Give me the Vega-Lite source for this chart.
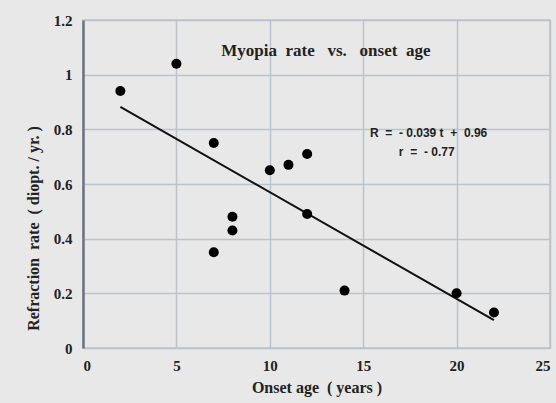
{
  "$schema": "https://vega.github.io/schema/vega-lite/v6.json",
  "width": 467,
  "height": 328,
  "autosize": {"type": "none"},
  "padding": {"left": 83, "top": 20, "right": 6, "bottom": 55},
  "background": "#e8e8e8",
  "config": {
    "view": {"stroke": "#b9c4cf", "strokeWidth": 1.5},
    "axis": {
      "labelFont": "Liberation Serif",
      "titleFont": "Liberation Serif",
      "labelFontWeight": "bold",
      "titleFontWeight": "bold",
      "labelColor": "#222",
      "titleColor": "#222",
      "labelFontSize": 15,
      "titleFontSize": 16,
      "gridColor": "#b9c4cf",
      "gridWidth": 1.5,
      "gridOpacity": 1,
      "ticks": false
    }
  },
  "datasets": {
    "points": [
      {"age": 2, "rate": 0.94},
      {"age": 5, "rate": 1.04},
      {"age": 7, "rate": 0.75},
      {"age": 7, "rate": 0.35},
      {"age": 8, "rate": 0.48},
      {"age": 8, "rate": 0.43},
      {"age": 10, "rate": 0.65},
      {"age": 11, "rate": 0.67},
      {"age": 12, "rate": 0.71},
      {"age": 12, "rate": 0.49},
      {"age": 14, "rate": 0.21},
      {"age": 20, "rate": 0.2},
      {"age": 22, "rate": 0.13}
    ],
    "fit": [
      {"age": 2, "rate": 0.882},
      {"age": 22, "rate": 0.102}
    ],
    "notes": [
      {"age": 13.0, "rate": 1.088, "label": "Myopia\u00a0 rate\u00a0\u00a0 vs.\u00a0\u00a0 onset\u00a0 age", "kind": "title"},
      {"age": 18.5, "rate": 0.787, "label": "R\u00a0 =\u00a0 - 0.039 t\u00a0 +\u00a0 0.96", "kind": "eq"},
      {"age": 18.4, "rate": 0.716, "label": "r\u00a0 =\u00a0 - 0.77", "kind": "eq"}
    ]
  },
  "layer": [
    {
      "data": {"name": "fit"},
      "mark": {"type": "line", "color": "#111", "strokeWidth": 2},
      "encoding": {
        "x": {
          "field": "age", "type": "quantitative",
          "scale": {"domain": [0, 25], "nice": false},
          "axis": {"values": [0, 5, 10, 15, 20, 25], "title": "Onset age\u00a0 ( years )", "labelPadding": 10, "titlePadding": 6, "domain": false}
        },
        "y": {
          "field": "rate", "type": "quantitative",
          "scale": {"domain": [0, 1.2], "nice": false},
          "axis": {"values": [0, 0.2, 0.4, 0.6, 0.8, 1, 1.2], "format": ".1~f", "title": "Refraction\u00a0 rate\u00a0 ( diopt. / yr. )", "titleY": 208, "labelPadding": 11, "titlePadding": 12, "domainColor": "#6b7480", "domainWidth": 2.5}
        }
      }
    },
    {
      "data": {"name": "points"},
      "mark": {"type": "circle", "color": "#000", "opacity": 1, "size": 100},
      "encoding": {
        "x": {"field": "age", "type": "quantitative"},
        "y": {"field": "rate", "type": "quantitative"}
      }
    },
    {
      "data": {"name": "notes"},
      "transform": [{"filter": "datum.kind == 'title'"}],
      "mark": {"type": "text", "font": "Liberation Serif", "fontWeight": "bold", "fontSize": 17, "color": "#222"},
      "encoding": {
        "x": {"field": "age", "type": "quantitative"},
        "y": {"field": "rate", "type": "quantitative"},
        "text": {"field": "label"}
      }
    },
    {
      "data": {"name": "notes"},
      "transform": [{"filter": "datum.kind == 'eq'"}],
      "mark": {"type": "text", "font": "Liberation Sans", "fontWeight": "bold", "fontSize": 12, "color": "#222"},
      "encoding": {
        "x": {"field": "age", "type": "quantitative"},
        "y": {"field": "rate", "type": "quantitative"},
        "text": {"field": "label"}
      }
    }
  ]
}
